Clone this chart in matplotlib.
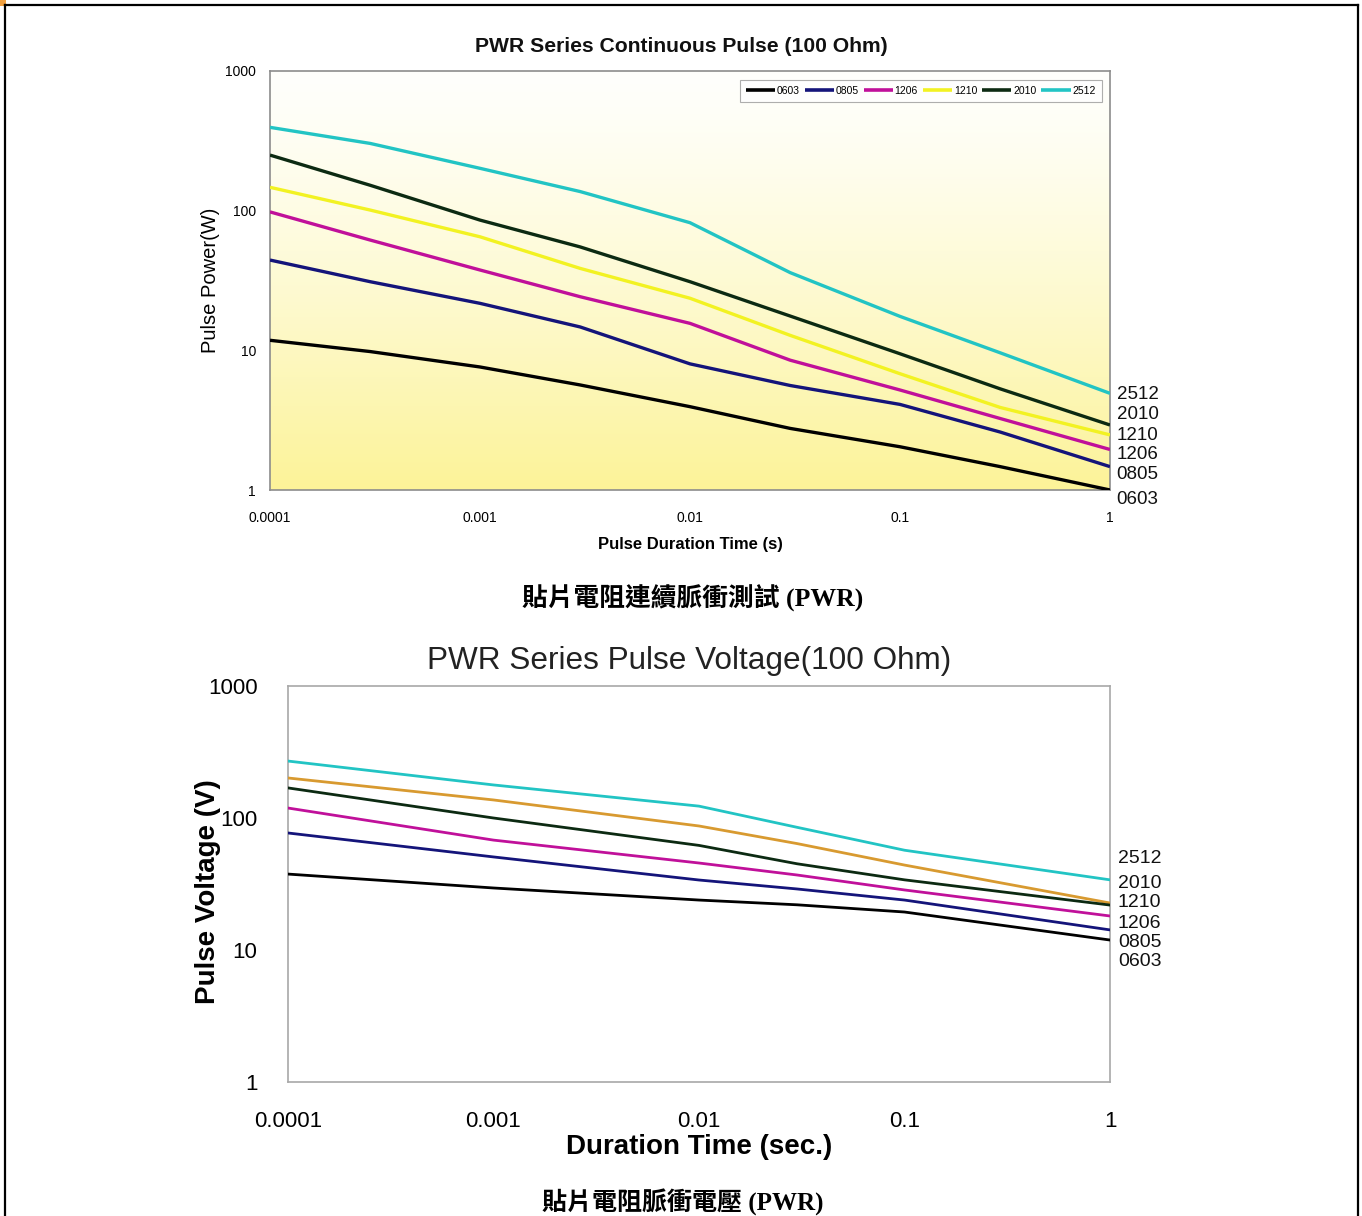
import numpy as np
import matplotlib
matplotlib.use("Agg")
import matplotlib.pyplot as plt
from matplotlib.lines import Line2D
from matplotlib.patches import Rectangle

# ---------------- data ----------------
series = ["0603", "0805", "1206", "1210", "2010", "2512"]

# top chart: pulse power (W) vs duration (s)
t_top = [0.0001, 0.0003, 0.001, 0.003, 0.01, 0.03, 0.1, 0.3, 1.0]
p_0603 = [11.8, 9.8, 7.6, 5.65, 3.95, 2.76, 2.04, 1.47, 1.0]
p_0805 = [44.3, 31.0, 21.7, 14.7, 8.0, 5.6, 4.1, 2.6, 1.47]
p_1206 = [98.0, 61.6, 37.6, 24.2, 15.6, 8.5, 5.2, 3.25, 1.95]
p_1210 = [147.0, 101.0, 65.0, 38.6, 23.6, 12.8, 6.8, 3.9, 2.48]
p_2010 = [250.0, 152.0, 85.6, 55.0, 31.0, 17.6, 9.45, 5.3, 2.92]
p_2512 = [395.0, 303.0, 201.0, 137.0, 82.0, 36.0, 17.5, 9.6, 4.92]
top_values = [p_0603, p_0805, p_1206, p_1210, p_2010, p_2512]

# bottom chart: pulse voltage (V) vs duration (s)
t_bot = [0.0001, 0.001, 0.01, 0.03, 0.1, 1.0]
v_0603 = [37.6, 29.5, 23.9, 22.0, 19.4, 11.9]
v_0805 = [77.0, 50.7, 33.9, 29.0, 23.9, 14.2]
v_1206 = [119.0, 68.0, 45.6, 37.0, 28.5, 18.1]
v_1210 = [201.0, 137.0, 87.0, 64.0, 44.0, 22.7]
v_2010 = [169.0, 100.0, 62.0, 45.0, 34.0, 21.9]
v_2512 = [270.0, 178.0, 123.0, 85.0, 57.0, 34.0]
bot_values = [v_0603, v_0805, v_1206, v_1210, v_2010, v_2512]

x_ticks = [0.0001, 0.001, 0.01, 0.1, 1]
x_ticklabels = ["0.0001", "0.001", "0.01", "0.1", "1"]
y_ticks = [1, 10, 100, 1000]
y_ticklabels = ["1", "10", "100", "1000"]

top_title = "PWR Series Continuous Pulse (100 Ohm)"
top_xlabel = "Pulse Duration Time (s)"
top_ylabel = "Pulse Power(W)"
bot_title = "PWR Series Pulse Voltage(100 Ohm)"
bot_xlabel = "Duration Time (sec.)"
bot_ylabel = "Pulse Voltage (V)"
caption_top = "貼片電阻連續脈衝測試 (PWR)"
caption_bot = "貼片電阻脈衝電壓 (PWR)"

top_colors = ["#000000", "#14147a", "#c0109a", "#f2f222", "#0c2a12", "#22c4c4"]
bot_colors = ["#000000", "#14147a", "#c0109a", "#d89a30", "#0c2a12", "#22c4c4"]

# right-side label positions (axes fraction)
top_lab_y = [-0.022, 0.036, 0.084, 0.131, 0.179, 0.227]
bot_lab_y = [0.305, 0.353, 0.401, 0.454, 0.502, 0.565]

plt.rcParams["font.family"] = ["Liberation Sans", "DejaVu Sans"]

W, H = 1362, 1216
fig = plt.figure(figsize=(W / 100, H / 100), dpi=100)

# page frame
fig.add_artist(Line2D([5 / W, 5 / W], [0, 1 - 5 / H], transform=fig.transFigure, color="black", lw=1.6))
fig.add_artist(Line2D([5 / W, 1358 / W], [1 - 5 / H, 1 - 5 / H], transform=fig.transFigure, color="black", lw=1.6))
fig.add_artist(Line2D([1358 / W, 1358 / W], [0, 1 - 5 / H], transform=fig.transFigure, color="black", lw=1.6))
fig.add_artist(Rectangle((0, 1 - 6 / H), 6 / W, 6 / H, transform=fig.transFigure, color="#f0a040", lw=0))


def setup_axes(ax, spine_color, tick_fs, pad_x, pad_y):
    ax.set_xscale("log")
    ax.set_yscale("log")
    ax.set_xlim(0.0001, 1)
    ax.set_ylim(1, 1000)
    ax.set_xticks(x_ticks)
    ax.set_xticklabels(x_ticklabels)
    ax.set_yticks(y_ticks)
    ax.set_yticklabels(y_ticklabels)
    ax.minorticks_off()
    ax.tick_params(axis="x", length=0, pad=pad_x, labelsize=tick_fs)
    ax.tick_params(axis="y", length=0, pad=pad_y, labelsize=tick_fs)
    for s in ax.spines.values():
        s.set_color(spine_color)
        s.set_linewidth(1.2)


# ---------------- top chart ----------------
ax1 = fig.add_axes([270 / W, 1 - 490 / H, 840 / W, 419 / H])
setup_axes(ax1, "#8c8c8c", 10, 15, 10)
grad = np.linspace(0, 1, 256) ** 1.3
top_c = np.array([255, 255, 252]) / 255
bot_c = np.array([252, 243, 152]) / 255
img = top_c[None, :] * (1 - grad[:, None]) + bot_c[None, :] * grad[:, None]
ax1.imshow(img[:, None, :], extent=[0, 1, 0, 1], transform=ax1.transAxes,
           aspect="auto", zorder=0, origin="upper")
ax1.set_xlim(0.0001, 1)
ax1.set_ylim(1, 1000)
handles = []
for name, vals, c in zip(series, top_values, top_colors):
    h, = ax1.plot(t_top, vals, color=c, lw=2.4, label=name, zorder=3, solid_capstyle="butt")
    handles.append(h)
for name, yy in zip(series, top_lab_y):
    ax1.text(1.008, yy, name, transform=ax1.transAxes, fontsize=13.5,
             ha="left", va="center", color="#111111")
leg = ax1.legend(handles=handles, loc="upper right", ncol=6, fontsize=7.5,
                 frameon=True, fancybox=False, edgecolor="#9a9a9a",
                 handlelength=2.8, handletextpad=0.15, columnspacing=0.5,
                 borderpad=0.6, bbox_to_anchor=(0.9965, 0.992))
leg.get_frame().set_linewidth(0.8)
for l in leg.get_lines():
    l.set_linewidth(2.6)
ax1.set_title(top_title, fontsize=15.2, fontweight="bold", pad=14, color="#111111", x=0.49)
ax1.set_xlabel(top_xlabel, fontsize=12, fontweight="bold", labelpad=9)
ax1.set_ylabel(top_ylabel, fontsize=14.5)
ax1.yaxis.set_label_coords(-0.060, 0.501)

# ---------------- bottom chart ----------------
ax2 = fig.add_axes([288 / W, 1 - 1082 / H, 822 / W, 396 / H])
setup_axes(ax2, "#a8a8a8", 16, 21, 22)
for name, vals, c in zip(series, bot_values, bot_colors):
    ax2.plot(t_bot, vals, color=c, lw=2.0, zorder=3)
for name, yy in zip(series, bot_lab_y):
    ax2.text(1.0097, yy, name, transform=ax2.transAxes, fontsize=14,
             ha="left", va="center", color="#111111")
ax2.set_title(bot_title, fontsize=22.7, pad=12, color="#222222", x=0.488)
ax2.set_xlabel(bot_xlabel, fontsize=20, fontweight="bold", labelpad=1)
ax2.set_ylabel(bot_ylabel, fontsize=20, fontweight="bold")
ax2.yaxis.set_label_coords(-0.081, 0.48)

# captions
cap_font = ["Liberation Serif", "Noto Sans CJK TC"]
fig.text(693 / W, 1 - 598 / H, caption_top, ha="center", va="center",
         fontsize=18.5, fontweight="bold", family=cap_font)
fig.text(683 / W, 1 - 1202 / H, caption_bot, ha="center", va="center",
         fontsize=18, fontweight="bold", family=cap_font)

fig.savefig("out.png", dpi=100, facecolor="white")
